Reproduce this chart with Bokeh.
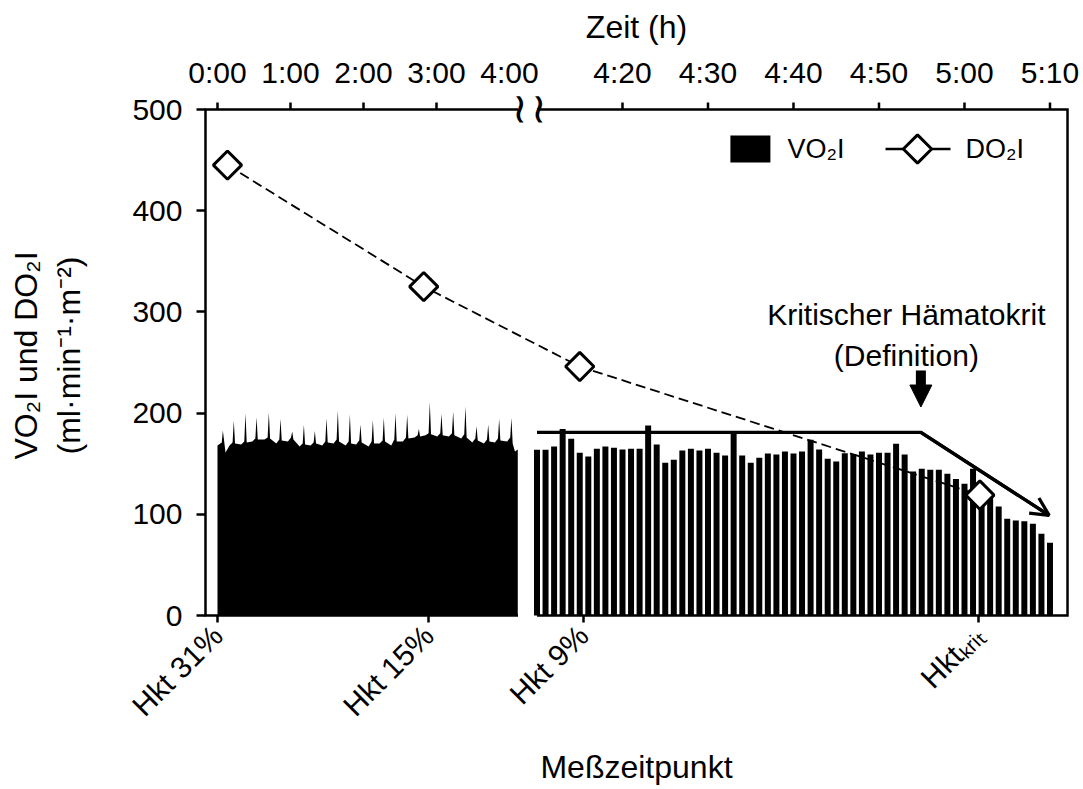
import numpy as np
from bokeh.plotting import figure
from bokeh.models import Range1d, LinearAxis, FixedTicker, Label, Arrow, OpenHead, NormalHead
from bokeh.core.properties import value
from bokeh.embed import file_html
from bokeh.resources import INLINE

# ---------------- data ----------------
top_tick_minutes = [0, 60, 120, 180, 240, 260, 270, 280, 290, 300, 310]
top_tick_labels = ["0:00", "1:00", "2:00", "3:00", "4:00", "4:20", "4:30", "4:40", "4:50", "5:00", "5:10"]
top_tick_without_mark = [240]          # label shown, tick mark hidden by the axis break

hkt_minutes = [0, 173.4, 255.4, 301.6]
hkt_labels = ["Hkt 31%", "Hkt 15%", "Hkt 9%", "Hktₖᵣᵢₜ"]

do2_minutes = [8.2, 169.5, 255.0, 301.8]
do2_values = [445, 325, 246, 119]

vo2_cont_minutes = [
    0, 3.5, 4.4, 6.6,
    9.9, 12.4, 13.4, 14.4,
    19.5, 22.0, 23.0, 24.0,
    28.6, 31.1, 32.1, 33.1,
    38.7, 41.2, 42.2, 43.2,
    48.3, 50.8, 51.8, 52.8,
    57.9, 60.4, 61.4, 62.4,
    67.5, 70.0, 71.0, 72.0,
    76.5, 79.0, 80.0, 81.0,
    86.1, 88.6, 89.6, 90.6,
    95.4, 97.9, 98.9, 99.9,
    105.3, 107.8, 108.8, 109.8,
    114.0, 116.5, 117.5, 118.5,
    124.2, 126.7, 127.7, 128.7,
    133.2, 135.7, 136.7, 137.7,
    142.8, 145.3, 146.3, 147.3,
    152.4, 154.9, 155.9, 156.9,
    162.0, 164.5, 165.5, 166.5,
    171.0, 173.5, 174.5, 175.5,
    180.6, 183.1, 184.1, 185.1,
    190.2, 192.7, 193.7, 194.7,
    200.3, 202.8, 203.8, 204.8,
    209.4, 211.9, 212.9, 213.9,
    219.0, 221.5, 222.5, 223.5,
    228.0, 230.5, 231.5, 232.5,
    238.1, 240.6, 241.6, 242.6,
    244.5, 246.8,
]
vo2_cont_values = [
    168, 171, 182.8, 161,
    168, 171, 192.7, 170,
    169, 172, 199.9, 171,
    172, 175, 196.0, 174,
    174, 176, 200.6, 175,
    170, 174, 194.3, 173,
    172, 176, 181.8, 174,
    167, 170, 188.4, 169,
    168, 171, 182.2, 170,
    168, 172, 195.0, 171,
    170, 174, 202.6, 172,
    168, 172, 198.6, 170,
    169, 173, 188.7, 171,
    167, 172, 193.3, 170,
    170, 173, 195.3, 172,
    168, 174, 199.9, 172,
    172, 176, 198.3, 175,
    176, 178, 184.4, 177,
    178, 180, 210.8, 179,
    177, 180, 199.3, 178,
    177, 180, 201.6, 178,
    175, 179, 206.5, 176,
    171, 175, 187.1, 173,
    170, 174, 188.7, 172,
    171, 175, 194.3, 173,
    172, 176, 195.3, 170,
    162, 164,
]

vo2_bar_minutes = list(range(250, 311))
vo2_bar_values = [
    163.7, 163.7, 167.0, 184.4, 174.6, 160.7, 157.1, 164.7, 167.0, 165.7,
    164.0, 164.7, 164.7, 187.7, 169.0, 150.9, 153.8, 163.0, 164.7, 163.0,
    164.7, 160.7, 158.1, 179.5, 158.1, 150.9, 155.8, 160.1, 159.1, 162.1,
    160.1, 162.1, 173.6, 164.0, 154.8, 152.2, 160.4, 159.7, 162.1, 159.1,
    160.7, 160.7, 169.6, 159.1, 142.3, 144.9, 143.9, 143.9, 140.0, 135.0,
    130.1, 144.9, 125.2, 116.9, 107.7, 95.5, 93.9, 93.2, 90.6, 80.7,
    71.8,
]

crit_minutes = [250, 294.9, 309.9]
crit_values = [181, 181, 99]

# ------------- broken time axis (minutes -> plot x) -------------
LEFT_END = 248          # last minute of the first (compressed) segment
BREAK_LEFT_MIN = 247    # first segment drawn up to here
BREAK_RIGHT_MIN = 250   # second segment starts here
RIGHT_REF_MIN = 260     # 4:20
RIGHT_REF_X = 5.5479
PER_MIN_RIGHT = 0.11712


def xu(t):
    t = np.asarray(t, dtype=float)
    return np.where(t <= LEFT_END, t / 60.0,
                    RIGHT_REF_X + (t - RIGHT_REF_MIN) * PER_MIN_RIGHT)


FONT = "Liberation Sans"
Y_MAX = 500
PX_PER_Y = 1.012          # screen pixels per y unit
X_LEFT_AXIS = -0.1644     # x of the y-axis line
X_RIGHT_AXIS = 11.644     # x of the right frame line

p = figure(width=1083, height=789,
           x_range=Range1d(-0.19178, 11.6712),
           y_range=Range1d(-2 / PX_PER_Y, Y_MAX + 16 / PX_PER_Y),
           output_backend="svg", toolbar_location=None,
           min_border_left=203, min_border_right=14,
           min_border_top=93, min_border_bottom=172)
p.outline_line_color = None
p.xgrid.visible = False
p.ygrid.visible = False
p.background_fill_color = "white"
p.border_fill_color = "white"


def style_axis(ax, label_size="30px"):
    ax.axis_line_color = None
    ax.major_tick_line_width = 2.5
    ax.major_tick_line_color = "black"
    ax.minor_tick_line_color = None
    ax.major_label_text_font = FONT
    ax.major_label_text_font_size = label_size
    ax.major_label_text_color = "black"
    ax.axis_label_text_font = FONT
    ax.axis_label_text_font_size = "32px"
    ax.axis_label_text_font_style = "normal"
    ax.axis_label_text_color = "black"


# left axis (ticks + labels; the axis line is drawn with the frame below)
left = p.left[0]
style_axis(left)
left.ticker = FixedTicker(ticks=[0, 100, 200, 300, 400, 500])
left.major_tick_in = 2
left.major_tick_out = 7
left.major_label_standoff = 14
left.axis_label = "VO₂I und DO₂I\n(ml·min⁻¹·m⁻²)"
left.axis_label_standoff = 42

# bottom axis
bottom = p.below[0]
style_axis(bottom)
hkt_ticks = [round(float(v), 6) for v in xu(hkt_minutes)]
bottom.ticker = FixedTicker(ticks=hkt_ticks)
bottom.major_label_overrides = {k: lab for k, lab in zip(hkt_ticks, hkt_labels)}
bottom.major_label_orientation = np.pi / 4
bottom.major_tick_in = 2
bottom.major_tick_out = 5
bottom.major_label_standoff = 8
bottom.axis_label = "Meßzeitpunkt"
bottom.axis_label_standoff = 12

# top axis: labels only (line and tick marks drawn at y = 500 below)
top_ticks = [round(float(v), 6) for v in xu(top_tick_minutes)]
top = LinearAxis(ticker=FixedTicker(ticks=top_ticks),
                 major_label_overrides={k: lab for k, lab in zip(top_ticks, top_tick_labels)},
                 axis_label="Zeit (h)")
style_axis(top)
top.major_tick_line_color = None
top.major_tick_in = 0
top.major_tick_out = 0
top.major_label_standoff = 5
top.axis_label_standoff = 8
p.add_layout(top, "above")

# ---------------- data glyphs ----------------
p.varea(x=xu(vo2_cont_minutes), y1=np.zeros(len(vo2_cont_values)), y2=vo2_cont_values,
        fill_color="black")
p.vbar(x=xu(vo2_bar_minutes), top=vo2_bar_values, bottom=0, width=0.70 * PER_MIN_RIGHT,
       fill_color="black", line_color=None)

# critical threshold line with arrow
p.line(x=xu(crit_minutes), y=crit_values, line_color="black", line_width=3.3, line_join="miter")
p.add_layout(Arrow(end=OpenHead(size=18, line_width=3.3, line_color="black"),
                   x_start=float(xu(crit_minutes[1])), y_start=crit_values[1],
                   x_end=float(xu(crit_minutes[2])), y_end=crit_values[2],
                   line_width=3.3, line_color="black"))

# DO2I dashed line with diamonds
p.line(x=xu(do2_minutes), y=do2_values, line_color="black", line_width=1.8, line_dash="10 5")
p.scatter(x=xu(do2_minutes), y=do2_values, marker="square", angle=np.pi / 4, size=20,
          fill_color="white", line_color="black", line_width=3)

# ---------------- broken frame ----------------
bl = float(xu(BREAK_LEFT_MIN))
br = float(xu(BREAK_RIGHT_MIN))
p.line(x=[bl, X_LEFT_AXIS, X_LEFT_AXIS, bl], y=[Y_MAX, Y_MAX, 0, 0],
       line_color="black", line_width=2.5, line_join="miter")
p.line(x=[br, X_RIGHT_AXIS, X_RIGHT_AXIS, br], y=[Y_MAX, Y_MAX, 0, 0],
       line_color="black", line_width=2.5, line_join="miter")
tick_x = xu([t for t in top_tick_minutes if t not in top_tick_without_mark])
p.segment(x0=tick_x, y0=Y_MAX, x1=tick_x, y1=Y_MAX + 7 / PX_PER_Y,
          line_color="black", line_width=2.5)
p.text(x=[bl, br], y=[Y_MAX, Y_MAX], text=["~", "~"], angle=np.pi / 2,
       text_align="center", text_baseline="middle", text_font=value("DejaVu Sans"),
       text_font_size="42px", text_color="black")

# annotation: critical hematocrit
ann_x = float(xu(293.2))
p.add_layout(Label(x=ann_x, y=297, text="Kritischer Hämatokrit", text_align="center",
                   text_baseline="middle", text_font=FONT, text_font_size="30px",
                   text_color="black"))
p.add_layout(Label(x=ann_x, y=257, text="(Definition)", text_align="center",
                   text_baseline="middle", text_font=FONT, text_font_size="30px",
                   text_color="black"))
knee_x = float(xu(crit_minutes[1]))
p.add_layout(Arrow(end=NormalHead(size=22, fill_color="black", line_color="black", line_width=1),
                   x_start=knee_x, y_start=242, x_end=knee_x, y_end=206,
                   line_width=10, line_color="black"))

# legend (drawn manually)
leg_y = 461
p.rect(x=[7.30], y=[leg_y], width=40, height=27, width_units="screen", height_units="screen",
       fill_color="black", line_color=None)
p.add_layout(Label(x=7.30, x_offset=37, y=leg_y, text="VO₂I", text_align="left",
                   text_baseline="middle", text_font=FONT, text_font_size="27px",
                   text_color="black"))
p.segment(x0=[9.151], y0=[leg_y], x1=[10.041], y1=[leg_y], line_color="black", line_width=2.5)
p.scatter(x=[9.589], y=[leg_y], marker="square", angle=np.pi / 4, size=20,
          fill_color="white", line_color="black", line_width=3)
p.add_layout(Label(x=10.247, y=leg_y, text="DO₂I", text_align="left",
                   text_baseline="middle", text_font=FONT, text_font_size="27px",
                   text_color="black"))

open("out.html", "w").write(file_html(p, INLINE))
